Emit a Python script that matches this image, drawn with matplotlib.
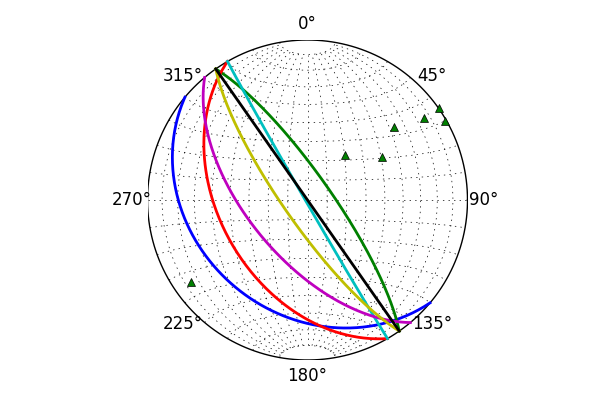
import numpy as np
import matplotlib
matplotlib.use('Agg')
import matplotlib.pyplot as plt

plt.style.use('classic')

# planes (right-hand-rule strike, dip), plotted in colour-cycle order
strikes = [130, 325, 150, 150, 140, 145, 145]
dips = [30, 78, 44.5, 89, 60, 78, 90]
colors = ['b', 'g', 'r', 'c', 'm', 'y', 'k']

tick_angles = [0, 45, 90, 135, 180, 225, 270, 315]


def project(e, n, u):
    # lower-hemisphere equal-area (Lambert), unit circle
    k = 1.0 / np.sqrt(1.0 - u)
    return e * k, n * k


def line_vec(trend, plunge):
    t, p = np.radians(trend), np.radians(plunge)
    return np.cos(p) * np.sin(t), np.cos(p) * np.cos(t), -np.sin(p)


def plane_curve(strike, dip, num=200):
    s, d = np.radians(strike), np.radians(dip)
    a = np.linspace(0, np.pi, num)
    sv = np.array([np.sin(s), np.cos(s), 0.0])
    dv = np.array([np.sin(s + np.pi / 2) * np.cos(d),
                   np.cos(s + np.pi / 2) * np.cos(d),
                   -np.sin(d)])
    v = np.outer(np.cos(a), sv) + np.outer(np.sin(a), dv)
    return project(v[:, 0], v[:, 1], np.minimum(v[:, 2], 0))


fig = plt.figure(figsize=(6, 4), dpi=100, facecolor='white')
ax = fig.add_subplot(111)
ax.set_aspect('equal')
ax.set_xlim(-1, 1)
ax.set_ylim(-1, 1)
ax.axis('off')

# grid: meridians and parallels about the N-S horizontal axis
grid_kw = dict(color='k', lw=0.5, ls=(0, (1, 3)))
lat = np.radians(np.linspace(-80, 80, 200))
for lon_d in range(-80, 81, 10):
    lon = np.radians(lon_d)
    x, y = project(np.cos(lat) * np.sin(lon), np.sin(lat), -np.cos(lat) * np.cos(lon))
    ax.plot(x, y, **grid_kw)
lon = np.radians(np.linspace(-90, 90, 200))
for lat_d in range(-80, 81, 10):
    la = np.radians(lat_d)
    x, y = project(np.cos(la) * np.sin(lon), np.full_like(lon, np.sin(la)), -np.cos(la) * np.cos(lon))
    ax.plot(x, y, **grid_kw)

# boundary
th = np.linspace(0, 2 * np.pi, 400)
ax.plot(np.cos(th), np.sin(th), color='k', lw=1)

for s, d, c in zip(strikes, dips, colors):
    x, y = plane_curve(s, d)
    ax.plot(x, y, color=c, lw=2)

for s, d in zip(strikes, dips):
    x, y = project(*line_vec(s - 90, 90 - d))
    ax.plot(x, y, 'g^', markersize=6)

# azimuth labels centred on a ring just outside the net
for a in tick_angles:
    r = np.radians(a)
    ax.text(1.1 * np.sin(r), 1.1 * np.cos(r), u'%d\u00b0' % a,
            ha='center', va='center', fontsize=12)

fig.savefig('out.png', dpi=100, facecolor='white')
